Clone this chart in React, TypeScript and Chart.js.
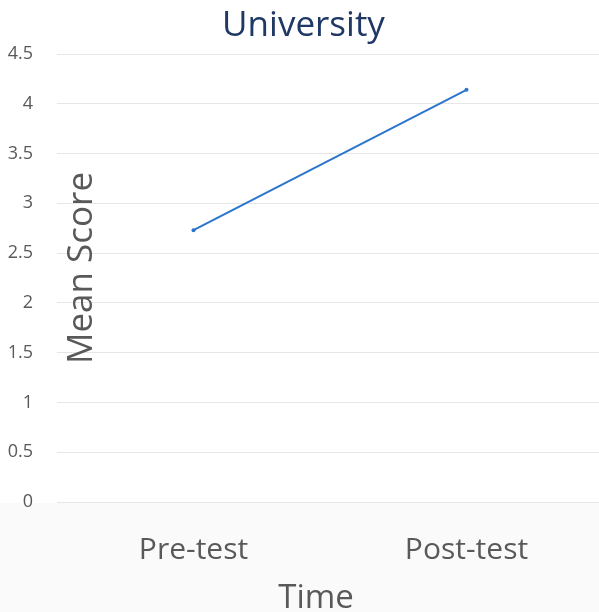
import React, { useEffect, useRef } from "react";
import { Chart, registerables } from "chart.js";

Chart.register(...registerables);

const categories = ["Pre-test", "Post-test"];
const meanScores = [2.73, 4.14];
const yMin = 0;
const yMax = 4.5;
const yStep = 0.5;
const chartTitle = "University";
const yTitle = "Mean Score";
const xTitle = "Time";

const FONT = "'Open Sans', sans-serif";
const GREY = "#595959";

const extrasPlugin = {
  id: "extras",
  beforeDraw(chart: any) {
    const { ctx, chartArea, width, height } = chart;
    ctx.save();
    ctx.fillStyle = "#ffffff";
    ctx.fillRect(0, 0, width, height);
    ctx.fillStyle = "#fafafa";
    ctx.fillRect(0, chartArea.bottom + 1, width, height - chartArea.bottom);
    ctx.restore();
  },
  afterDraw(chart: any) {
    const { ctx, chartArea } = chart;
    ctx.save();
    ctx.fillStyle = GREY;
    ctx.font = `35px ${FONT}`;
    ctx.textAlign = "center";
    ctx.textBaseline = "alphabetic";
    ctx.translate(92, (chartArea.top + chartArea.bottom) / 2 - 10);
    ctx.rotate(-Math.PI / 2);
    ctx.fillText(yTitle, 0, 0);
    ctx.restore();
    ctx.save();
    ctx.fillStyle = GREY;
    ctx.font = `33px ${FONT}`;
    ctx.textAlign = "center";
    ctx.textBaseline = "alphabetic";
    ctx.fillText(xTitle, 316, 608);
    ctx.restore();
  },
};

export default function App() {
  const ref = useRef<HTMLCanvasElement>(null);
  useEffect(() => {
    if (!ref.current) return;
    const chart = new Chart(ref.current, {
      type: "line",
      data: {
        labels: categories,
        datasets: [
          {
            data: meanScores,
            borderColor: "#2b76cc",
            backgroundColor: "#2b76cc",
            borderWidth: 2,
            pointRadius: 2,
            pointBorderWidth: 0,
            tension: 0,
          },
        ],
      },
      plugins: [extrasPlugin],
      options: {
        responsive: false,
        animation: false,
        devicePixelRatio: 1,
        layout: { padding: 0 },
        plugins: {
          legend: { display: false },
          tooltip: { enabled: false },
          title: {
            display: true,
            text: chartTitle,
            color: "#1f3864",
            font: { family: FONT, size: 35, weight: "normal" },
            padding: { top: 5, bottom: 7 },
          },
        },
        scales: {
          x: {
            offset: true,
            grid: { display: false, drawTicks: false },
            border: { display: false },
            ticks: {
              color: GREY,
              font: { family: FONT, size: 30 },
              padding: 30,
            },
            afterFit(scale: any) {
              scale.height = 110;
            },
          },
          y: {
            min: yMin,
            max: yMax,
            grid: { color: "#e6e6e6", lineWidth: 1, drawTicks: false },
            border: { display: false },
            ticks: {
              stepSize: yStep,
              color: GREY,
              font: { family: FONT, size: 18 },
              padding: 24,
              callback: (v: any) => String(Number(v)),
            },
            afterFit(scale: any) {
              scale.width = 57;
            },
          },
        },
      },
    } as any);
    return () => chart.destroy();
  }, []);
  return (
    <div style={{ position: "fixed", left: 0, top: 0, width: 599, height: 612, overflow: "hidden" }}>
      <canvas ref={ref} width={607} height={612} style={{ display: "block" }} />
    </div>
  );
}
